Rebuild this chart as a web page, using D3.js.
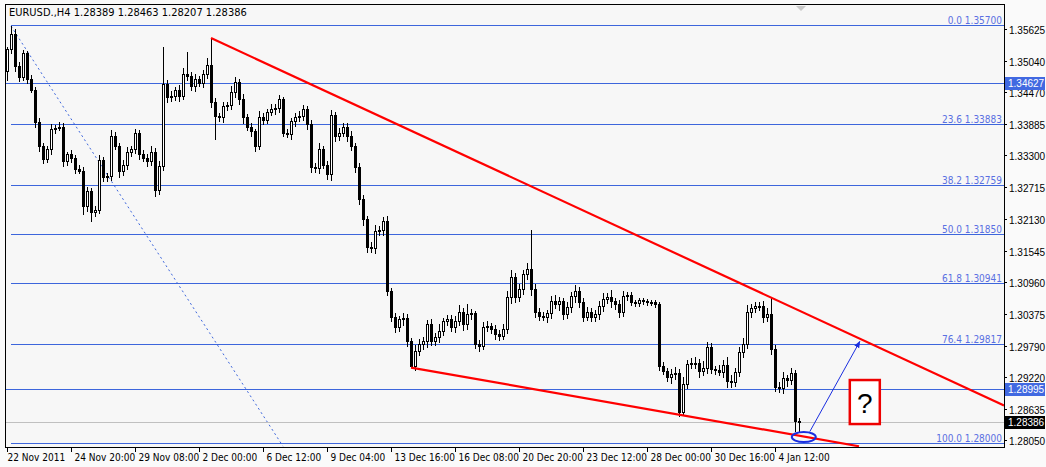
<!DOCTYPE html>
<html>
<head>
<meta charset="utf-8">
<script src="https://cdn.jsdelivr.net/npm/d3@7/dist/d3.min.js"></script>
<style>
  body { margin: 0; background: #fff; }
  svg text { font-family: "DejaVu Sans Condensed", "Liberation Sans", sans-serif; font-size: 10px; }
  svg text.ax { font-family: "Liberation Sans", sans-serif; font-size: 10px; }
</style>
</head>
<body>
<div id="chart"></div>
<script>
// candles of EURUSD H4, open = previous close
var firstOpen = 1.3484;
var closes = [
  1.3524,1.3552,1.3493,1.3474,1.3518,1.3469,1.3450,1.3390,1.3346,1.3322,
  1.3340,1.3377,1.3380,1.3382,1.3318,1.3331,1.3325,1.3303,1.3301,1.3235,
  1.3263,1.3224,1.3228,1.3320,1.3290,1.3291,1.3364,1.3346,1.3300,1.3312,
  1.3335,1.3340,1.3371,1.3331,1.3325,1.3318,1.3335,1.3266,1.3309,1.3460,
  1.3436,1.3438,1.3450,1.3438,1.3478,1.3476,1.3456,1.3469,1.3463,1.3478,
  1.3496,1.3428,1.3401,1.3399,1.3419,1.3421,1.3445,1.3465,1.3432,1.3399,
  1.3382,1.3373,1.3346,1.3399,1.3395,1.3408,1.3414,1.3417,1.3432,1.3371,
  1.3369,1.3392,1.3399,1.3401,1.3414,1.3386,1.3307,1.3305,1.3340,1.3312,
  1.3294,1.3404,1.3364,1.3371,1.3382,1.3364,1.3346,1.3307,1.3248,1.3211,
  1.3160,1.3158,1.3189,1.3191,1.3208,1.3079,1.3031,1.3013,1.3027,1.3029,
  1.2987,1.2941,1.2968,1.2981,1.2987,1.3018,1.2987,1.2994,1.3005,1.3024,
  1.3027,1.3013,1.3024,1.3040,1.3018,1.3036,1.3038,1.2981,1.2978,1.3013,
  1.3014,1.3009,1.3000,1.2996,1.3009,1.3068,1.3105,1.3068,1.3082,1.3110,
  1.3119,1.3082,1.3040,1.3033,1.3031,1.3038,1.3060,1.3055,1.3060,1.3036,
  1.3049,1.3070,1.3079,1.3059,1.3031,1.3040,1.3031,1.3036,1.3051,1.3064,
  1.3068,1.3060,1.3055,1.3040,1.3070,1.3072,1.3059,1.3057,1.3062,1.3060,
  1.3059,1.3058,1.3055,1.2941,1.2932,1.2921,1.2926,1.2928,1.2856,1.2908,
  1.2944,1.2946,1.2947,1.2932,1.2937,1.2976,1.2935,1.2934,1.2930,1.2943,
  1.2913,1.2912,1.2930,1.2967,1.2981,1.3040,1.3047,1.3051,1.3052,1.3031,
  1.3036,1.2972,1.2902,1.2901,1.2918,1.2916,1.2928,1.28389,1.28386
];
// wick lengths in pips beyond the body
var wickUp = [
  6,17,10,8,6,5,8,6,9,7, 8,10,6,9,7,5,8,6,10,8, 9,6,8,10,7,6,12,8,6,9,
  10,7,8,6,9,7,12,8,10,70, 8,10,6,9,12,42,8,10,7,9, 14,50,8,6,10,8,12,9,6,10,
  7,8,6,12,9,7,10,8,9,6, 8,7,9,10,8,6,9,8,12,7, 8,10,6,9,7,8,10,6,9,8,
  7,10,12,8,9,10,6,8,7,10, 9,6,12,10,8,9,10,8,15,7, 8,9,10,14,8,20,9,6,8,9,
  10,7,9,8,10,12,14,9,10,8, 12,74,10,8,9,7,10,12,9,8, 10,9,12,8,9,10,8,9,10,12,
  9,14,8,9,10,7,6,5,6,5, 6,5,6,5,8,7,10,12,8,14, 9,10,12,8,14,10,8,7,9,10,
  16,12,9,10,12,14,9,8,7,10, 12,32,9,10,12,8,10,6,7
];
var wickDn = [
  18,8,10,9,7,8,6,9,10,8, 7,9,8,6,10,7,9,8,6,15, 9,17,8,7,10,9,8,7,12,8,
  9,8,7,10,8,9,7,12,10,8, 9,7,8,10,6,9,8,10,7,9, 8,10,42,8,9,7,8,9,10,12,
  8,9,10,7,9,8,6,9,10,8, 7,10,9,8,7,10,9,8,10,8, 9,12,10,8,7,9,8,10,9,12,
  10,8,9,7,10,9,8,10,9,12, 10,3,9,8,10,12,8,9,10,7, 8,9,10,8,12,10,9,8,10,7,
  8,9,10,8,7,9,12,10,8,9, 10,12,9,8,7,10,9,8,12,10, 8,9,12,10,8,7,9,8,10,9,
  8,12,10,9,7,8,6,7,6,5, 6,5,6,8,7,9,12,10,8,7, 9,8,10,12,9,10,8,9,7,10,
  12,10,8,9,10,8,9,7,8,10, 9,10,8,9,10,12,9,18,18
];
var xLabels = ["22 Nov 2011","24 Nov 20:00","29 Nov 08:00","2 Dec 00:00","6 Dec 12:00",
  "9 Dec 04:00","13 Dec 16:00","16 Dec 08:00","20 Dec 20:00","23 Dec 12:00",
  "28 Dec 00:00","30 Dec 16:00","4 Jan 12:00"];
var yTicks = [1.35625,1.35040,1.34470,1.33885,1.33300,1.32715,1.32130,1.31545,
  1.30960,1.30375,1.29790,1.29220,1.28635,1.28050];
var fiboLevels = [0.0,23.6,38.2,50.0,61.8,76.4,100.0];
var fiboPrices = [1.35700,1.33883,1.32759,1.31850,1.30941,1.29817,1.28000];
var hLines = [1.34627,1.28995];
var lastPrice = 1.28386;
// trendlines as [bar index, price]
var upperTrend = [[51,1.3546],[191,1.3068]];
var lowerTrend = [[101,1.2939],[213,1.2794]];
var fiboTrend = [[1,1.3568],[69,1.2794]];
var arrowPts = [[200.7,1.2821],[213.2,1.2987]];

var W = 1046, H = 467,
    pl = 5, pr = 1004, pt = 4, pb = 447;

var svg = d3.select("#chart").append("svg")
  .attr("width", W).attr("height", H);

svg.append("rect").attr("x",0).attr("y",0).attr("width",W).attr("height",H)
  .attr("fill","#fafafa");
svg.append("rect").attr("x",pl).attr("y",pt).attr("width",pr-pl).attr("height",pb-pt)
  .attr("fill","#f7f7f7");

var x = d3.scaleLinear().domain([0,1]).range([pl+2, pl+6]);
var y = d3.scaleLinear().domain([1.28,1.357]).range([443,25]);

svg.append("clipPath").attr("id","clip").append("rect")
  .attr("x",pl).attr("y",pt).attr("width",pr-pl).attr("height",pb-pt);
var g = svg.append("g").attr("clip-path","url(#clip)");

var blue = "#3d66dc";

// fibo dotted trendline
g.append("line")
  .attr("x1",x(fiboTrend[0][0])).attr("y1",y(fiboTrend[0][1]))
  .attr("x2",x(fiboTrend[1][0])).attr("y2",y(fiboTrend[1][1]))
  .attr("stroke",blue).attr("stroke-dasharray","2,3").attr("stroke-width",1);

// fibo levels
fiboPrices.forEach(function(p,i){
  var yy = Math.round(y(p))+0.5;
  g.append("line").attr("x1",x(1)).attr("x2",pr).attr("y1",yy).attr("y2",yy)
    .attr("stroke",blue);
  g.append("text").attr("x",pr-2).attr("y",yy-2).attr("text-anchor","end")
    .attr("fill","#5a70e2").text(fiboLevels[i].toFixed(1)+" "+p.toFixed(5));
});
hLines.forEach(function(p){
  var yy = Math.round(y(p))+0.5;
  g.append("line").attr("x1",pl).attr("x2",pr).attr("y1",yy).attr("y2",yy)
    .attr("stroke",blue);
});
var ly = Math.round(y(lastPrice))+0.5;
g.append("line").attr("x1",pl).attr("x2",pr).attr("y1",ly).attr("y2",ly)
  .attr("stroke","#c0c0c0");

// candles
var candles = closes.map(function(c,i){
  var o = i === 0 ? firstOpen : closes[i-1];
  return {i:i, o:o, c:c, h:Math.max(o,c)+wickUp[i]/10000, l:Math.min(o,c)-wickDn[i]/10000};
});
var cg = g.append("g").attr("shape-rendering","crispEdges");
cg.selectAll("line.wick").data(candles).enter().append("line")
  .attr("x1",function(d){return Math.round(x(d.i))+0.5})
  .attr("x2",function(d){return Math.round(x(d.i))+0.5})
  .attr("y1",function(d){return y(d.h)}).attr("y2",function(d){return y(d.l)})
  .attr("stroke","#000");
cg.selectAll("rect.body").data(candles).enter().append("rect")
  .attr("x",function(d){return Math.round(x(d.i))-0.5})
  .attr("width",2)
  .attr("y",function(d){return y(Math.max(d.o,d.c))})
  .attr("height",function(d){return Math.max(1,Math.abs(y(d.o)-y(d.c)))})
  .attr("fill",function(d){return d.c>=d.o ? "#fff" : "#000"})
  .attr("stroke","#000").attr("stroke-width",1);

// red trendlines
[upperTrend, lowerTrend].forEach(function(t){
  var x1 = x(t[0][0]), y1 = y(t[0][1]), x2 = x(t[1][0]), y2 = y(t[1][1]);
  var ex = t === upperTrend ? pr : x2;
  var ey = y1 + (y2-y1)*(ex-x1)/(x2-x1);
  g.append("line").attr("x1",x1).attr("y1",y1).attr("x2",ex).attr("y2",ey)
    .attr("stroke","#f00").attr("stroke-width",2.2);
});

// arrow, ellipse, question box
svg.append("defs").append("marker").attr("id","ah").attr("viewBox","0 0 10 10")
  .attr("refX",9).attr("refY",5).attr("markerWidth",7).attr("markerHeight",7)
  .attr("orient","auto").append("path").attr("d","M0,1L10,5L0,9z").attr("fill","#1a2ee0");
g.append("line").attr("x1",x(arrowPts[0][0])).attr("y1",y(arrowPts[0][1]))
  .attr("x2",x(arrowPts[1][0])).attr("y2",y(arrowPts[1][1]))
  .attr("stroke","#1a2ee0").attr("stroke-width",1).attr("marker-end","url(#ah)");
g.append("ellipse").attr("cx",x(199.2)).attr("cy",y(1.2811)).attr("rx",12).attr("ry",5)
  .attr("fill","none").attr("stroke","#1a2ee0").attr("stroke-width",2);
g.append("rect").attr("x",x(210.7)).attr("y",y(1.2916)).attr("width",30).attr("height",44)
  .attr("fill","#fff").attr("stroke","#e00").attr("stroke-width",2.5);
g.append("text").attr("x",x(210.7)+15).attr("y",y(1.2916)+33).attr("text-anchor","middle")
  .style("font-size","28px").style("font-family","'Liberation Sans', sans-serif").text("?");

// frame
svg.append("rect").attr("x",pl+0.5).attr("y",pt+0.5).attr("width",pr-pl).attr("height",pb-pt)
  .attr("fill","none").attr("stroke","#000");

// header
svg.append("text").attr("x",9).attr("y",16).attr("fill","#000").style("font-size","11px")
  .text("EURUSD.,H4  1.28389 1.28463 1.28207 1.28386");
svg.append("path").attr("d","M796,6L806,6L801,11z").attr("fill","#c8c8c8");

// right axis
var ya = svg.append("g");
yTicks.forEach(function(p){
  var yy = Math.round(y(p))+0.5;
  ya.append("line").attr("x1",pr).attr("x2",pr+3).attr("y1",yy).attr("y2",yy).attr("stroke","#000");
  ya.append("text").attr("class","ax").attr("x",pr+5).attr("y",yy+4).attr("fill","#000").text(p.toFixed(5));
});
function tag(p, bg){
  var yy = Math.round(y(p));
  ya.append("rect").attr("x",pr+1).attr("y",yy-6).attr("width",W-pr-2).attr("height",13).attr("fill",bg);
  ya.append("text").attr("class","ax").attr("x",pr+4).attr("y",yy+4).attr("fill","#fff").text(p.toFixed(5));
}
hLines.forEach(function(p){ tag(p, "#4169e1"); });
tag(lastPrice, "#000");

// bottom axis
var xa = svg.append("g");
xLabels.forEach(function(t,k){
  var xx = Math.round(x(k*16))+0.5;
  xa.append("line").attr("x1",xx).attr("x2",xx).attr("y1",pb).attr("y2",pb+5).attr("stroke","#000");
  xa.append("text").attr("x",k===0 ? xx : xx+3).attr("y",461).attr("fill","#000").text(t);
});
</script>
</body>
</html>
